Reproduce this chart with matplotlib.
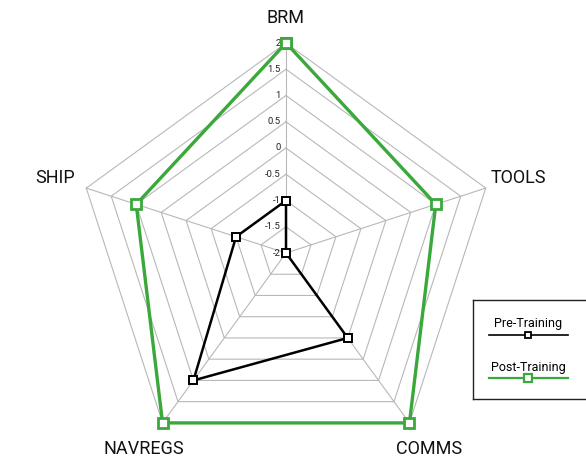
import numpy as np
import matplotlib
matplotlib.use('Agg')
import matplotlib.pyplot as plt
from matplotlib import font_manager

# 数据
categories = ['BRM', 'TOOLS', 'COMMS', 'NAVREGS', 'SHIP']
pre_training = [-1, -2, 0, 1, -1]
post_training = [2, 1, 2, 2, 1]
levels = [-1.5, -1, -0.5, 0, 0.5, 1, 1.5, 2]
tick_values = [2, 1.5, 1, 0.5, 0, -0.5, -1, -1.5, -2]
tick_labels = ['2', '1.5', '1', '0.5', '0', '-0.5', '-1', '-1.5', '-2']

names = {f.name for f in font_manager.fontManager.ttflist}
narrow = 'Liberation Sans Narrow' if 'Liberation Sans Narrow' in names else 'Roboto'
plt.rcParams['font.family'] = [narrow, 'DejaVu Sans']

green = '#3aa83a'
grid_c = '#b8b8b8'

fig = plt.figure(figsize=(5.86, 4.58), dpi=100)
W, H = 586, 458
cx, cy, R = 286, 253, 210
ax = fig.add_axes([(cx - R) / W, (H - cy - R) / H, 2 * R / W, 2 * R / H], projection='polar')
ax.set_theta_offset(np.pi / 2)
ax.set_theta_direction(-1)
ax.set_ylim(-2, 2)
ax.axis('off')

n = len(categories)
angles = np.linspace(0, 2 * np.pi, n, endpoint=False)
closed = np.concatenate([angles, angles[:1]])

# 五边形网格
for lv in levels:
    ax.plot(closed, [lv] * (n + 1), color=grid_c, lw=0.8, zorder=1, clip_on=False)
for a in angles:
    ax.plot([a, a], [-2, 2], color=grid_c, lw=0.8, zorder=1, clip_on=False)

# 刻度
for v, t in zip(tick_values, tick_labels):
    ax.annotate(t, (0, v), xytext=(-4, 0), textcoords='offset points',
                ha='right', va='center', fontsize=6.8, color='#222222', zorder=2)

# 类别标签
label_r = [2.48, 2.65, 2.62, 2.62, 2.62]
for a, c, r in zip(angles, categories, label_r):
    ax.text(a, r, c, ha='center', va='center', fontsize=13, color='#111111')

pre = pre_training + pre_training[:1]
post = post_training + post_training[:1]
ax.plot(closed, post, color=green, lw=2.4, marker='s', ms=7.5, mfc='white',
        mec=green, mew=2, zorder=4, clip_on=False)
ax.plot(closed, pre, color='black', lw=1.8, marker='s', ms=6, mfc='white',
        mec='black', mew=1.4, zorder=5, clip_on=False)

# 图例
lg = fig.add_axes([473 / W, (H - 399) / H, 125 / W, 99 / H])
lg.set_xlim(473, 598)
lg.set_ylim(399, 300)
lg.set_xticks([])
lg.set_yticks([])
for s in lg.spines.values():
    s.set_color('#222222')
    s.set_linewidth(1)
lg.text(528, 324, 'Pre-Training', ha='center', va='center', fontsize=9)
lg.plot([489, 568], [335, 335], color='black', lw=1.2)
lg.plot([528], [335], marker='s', ms=5, mfc='white', mec='black', mew=1.3)
lg.text(528, 367, 'Post-Training', ha='center', va='center', fontsize=9)
lg.plot([489, 568], [378, 378], color=green, lw=1.6)
lg.plot([528], [378], marker='s', ms=6, mfc='white', mec=green, mew=1.6)

fig.savefig('out.png', dpi=100)
